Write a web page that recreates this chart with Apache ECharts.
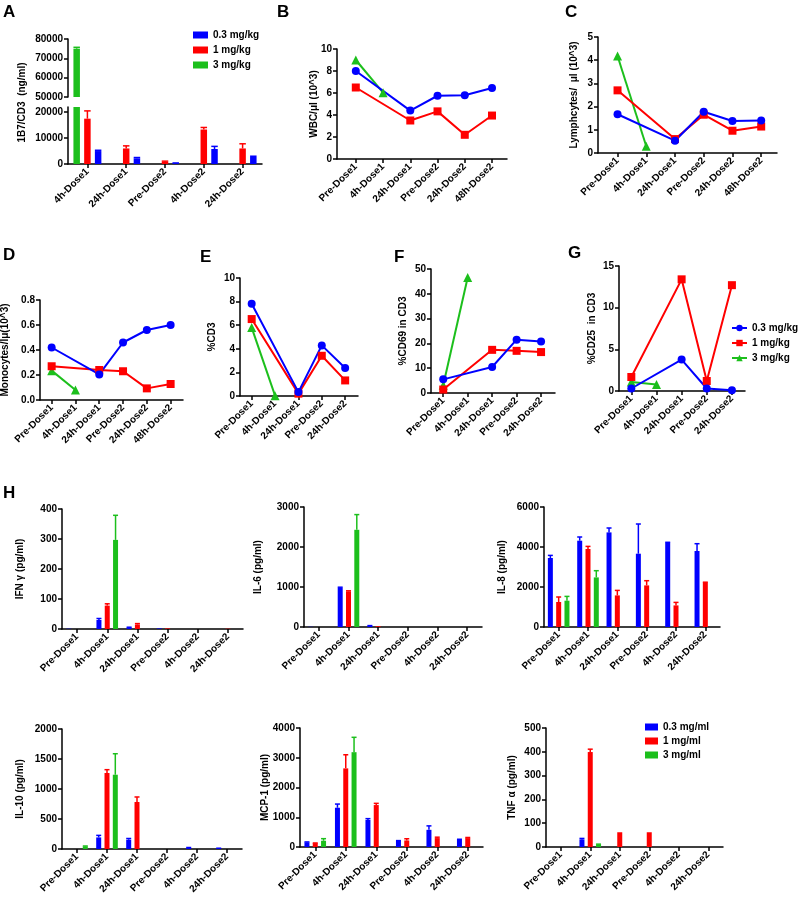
<!DOCTYPE html>
<html>
<head>
<meta charset="utf-8">
<script src="https://cdn.jsdelivr.net/npm/echarts@6.0.0/dist/echarts.min.js"></script>
<style>
  html, body { margin: 0; background: #fff; }
  #main { width: 800px; height: 914px; }
</style>
</head>
<body>
<div id="main"></div>
<script>
// ---- categories ----
var catsA = ['4h-Dose1', '24h-Dose1', 'Pre-Dose2', '4h-Dose2', '24h-Dose2'];
var catsBD = ['Pre-Dose1', '4h-Dose1', '24h-Dose1', 'Pre-Dose2', '24h-Dose2', '48h-Dose2'];
var catsEG = ['Pre-Dose1', '4h-Dose1', '24h-Dose1', 'Pre-Dose2', '24h-Dose2'];
var catsH = ['Pre-Dose1', '4h-Dose1', '24h-Dose1', 'Pre-Dose2', '4h-Dose2', '24h-Dose2'];
var kgNames = ['0.3 mg/kg', '1 mg/kg', '3 mg/kg'];
var mlNames = ['0.3 mg/ml', '1 mg/ml', '3 mg/ml'];

// ---- A: 1B7/CD3 (mean, sd) ----
var aLow = [5000, 2200, 300, 5800, 2700];
var aLowSd = [300, 300, 100, 1000, 300];
var aMid = [17500, 6000, 800, 13300, 6000];
var aMidSd = [3000, 1000, 300, 800, 1800];
var aHigh = [75000, null, null, null, null];
var aHighSd = [700, null, null, null, null];

// ---- B: WBC ----
var bLow = [8.0, null, 4.4, 5.75, 5.8, 6.45];
var bMid = [6.5, null, 3.5, 4.33, 2.2, 3.95];
var bHigh = [9.0, 6.03, null, null, null, null];
// ---- C: Lymphocytes ----
var cLow = [1.67, null, 0.53, 1.78, 1.38, 1.4];
var cMid = [2.7, null, 0.6, 1.65, 0.96, 1.14];
var cHigh = [4.18, 0.29, null, null, null, null];
// ---- D: Monocytes ----
var dLow = [0.42, null, 0.205, 0.46, 0.56, 0.6];
var dMid = [0.27, null, 0.24, 0.23, 0.093, 0.128];
var dHigh = [0.235, 0.08, null, null, null, null];
// ---- E: %CD3 ----
var eLow = [7.82, null, 0.33, 4.29, 2.37];
var eMid = [6.52, null, 0.2, 3.41, 1.32];
var eHigh = [5.8, 0.03, null, null, null];
// ---- F: %CD69 in CD3 ----
var fLow = [5.5, null, 10.5, 21.5, 20.8];
var fMid = [1.4, null, 17.4, 17.0, 16.5];
var fHigh = [3.1, 46.6, null, null, null];
// ---- G: %CD25 in CD3 ----
var gLow = [0.3, null, 3.77, 0.3, 0.1];
var gMid = [1.68, null, 13.4, 1.2, 12.7];
var gHigh = [1.08, 0.77, null, null, null];

// ---- H: cytokines (mean, sd) ----
var ifnLow = [1, 30, 5, 2, 0, 0],         ifnLowSd = [0, 5, 1, 0, 0, 0];
var ifnMid = [0, 78, 15, 2, 0, 1],        ifnMidSd = [0, 6, 3, 0, 0, 0];
var ifnHigh = [0, 297, null, null, null, null], ifnHighSd = [0, 82, null, null, null, null];

var il6Low = [5, 980, 30, 0, 0, 0],       il6LowSd = [0, 15, 5, 0, 0, 0];
var il6Mid = [0, 890, 20, 0, 0, 0],       il6MidSd = [0, 15, 0, 0, 0, 0];
var il6High = [0, 2430, null, null, null, null], il6HighSd = [0, 380, null, null, null, null];

var il8Low = [3450, 4315, 4730, 3665, 4215, 3800], il8LowSd = [130, 185, 220, 1485, 20, 365];
var il8Mid = [1250, 3900, 1580, 2080, 1080, 2230], il8MidSd = [250, 130, 250, 235, 150, 10];
var il8High = [1315, 2480, null, null, null, null], il8HighSd = [215, 335, null, null, null, null];

var il10Low = [0, 193, 155, 0, 20, 10],   il10LowSd = [0, 34, 20, 0, 5, 3];
var il10Mid = [0, 1267, 783, 0, 0, 0],    il10MidSd = [0, 55, 84, 0, 0, 0];
var il10High = [43, 1238, null, null, null, null], il10HighSd = [7, 350, null, null, null, null];

var mcpLow = [155, 1320, 910, 210, 577, 243], mcpLowSd = [15, 123, 43, 5, 133, 17];
var mcpMid = [130, 2643, 1410, 220, 300, 300], mcpMidSd = [5, 457, 57, 57, 30, 20];
var mcpHigh = [210, 3187, null, null, null, null], mcpHighSd = [70, 500, null, null, null, null];

var tnfLow = [0, 32, 0, 0, 0, 0],         tnfLowSd = [0, 4, 0, 0, 0, 0];
var tnfMid = [0, 399, 62, 62, 0, 0],      tnfMidSd = [0, 12, 0, 0, 0, 0];
var tnfHigh = [0, 11, null, null, null, null], tnfHighSd = [0, 1, null, null, null, null];

var BLUE = '#0000ff', RED = '#ff0000', GREEN = '#1cbf1c';
var FONT = '"Liberation Sans", Arial, sans-serif';

function lbl(o) {
    return Object.assign({ color: '#000', fontSize: 10, fontWeight: 'bold', fontFamily: FONT }, o || {});
}
function gridBox(l, t, r, b) {
    return { left: l, top: t, width: r - l, height: b - t, outerBoundsMode: 'none', containLabel: false };
}
var lineS = { show: true, onZero: false, lineStyle: { color: '#000', width: 1.5 } };
var tickS = { show: true, length: 4, lineStyle: { color: '#000', width: 1.5 } };
function plain(v) { return String(v); }

function yAx(gi, min, max, interval, name, gap, fmt, extra) {
    return Object.assign({
        type: 'value', gridIndex: gi, min: min, max: max, interval: interval,
        name: name, nameLocation: 'middle', nameGap: gap, nameMoveOverlap: false, nameTextStyle: lbl(),
        axisLine: lineS, axisTick: tickS,
        axisLabel: lbl({ margin: 5, formatter: fmt || plain }),
        splitLine: { show: false }
    }, extra || {});
}
function xCat(gi, cats, show) {
    return {
        type: 'category', gridIndex: gi, data: cats, show: show !== false,
        boundaryGap: true,
        axisLine: lineS, axisTick: Object.assign({ alignWithLabel: true }, tickS),
        axisLabel: lbl({ rotate: 45, interval: 0, margin: 6 }),
        splitLine: { show: false }
    };
}
function xVal(gi, cats, min, max) {
    var idx = cats.map(function (c, i) { return i; });
    return {
        type: 'value', gridIndex: gi, min: min, max: max,
        axisLine: lineS, axisTick: Object.assign({ customValues: idx }, tickS),
        axisLabel: lbl({ rotate: 45, margin: 6, customValues: idx, formatter: function (v) { return cats[v]; } }),
        splitLine: { show: false }
    };
}

// grids: 0 A-up, 1 A-low, 2 B, 3 C, 4 D, 5 E, 6 F, 7 G, 8 IFN, 9 IL6, 10 IL8, 11 IL10, 12 MCP1, 13 TNF
var grids = [
    gridBox(68, 39, 262, 97), gridBox(68, 107, 262, 164),
    gridBox(337, 49, 507, 159), gridBox(598, 37, 777, 153),
    gridBox(40, 300, 183, 400), gridBox(240, 278, 358, 396),
    gridBox(431, 269, 555, 393), gridBox(619, 266, 745, 391),
    gridBox(62, 509, 243, 629), gridBox(304, 507, 482, 627), gridBox(544, 507, 720, 627),
    gridBox(62, 729, 242, 849), gridBox(300, 728, 483, 847), gridBox(546, 728, 723, 847)
];

var xAxes = [
    xCat(0, catsA, false), xCat(1, catsA),
    xVal(2, catsBD, -0.69, 5.55), xVal(3, catsBD, -0.68, 5.55), xVal(4, catsBD, -0.49, 5.52),
    xVal(5, catsEG, -0.5, 4.55), xVal(6, catsEG, -0.5, 4.57), xVal(7, catsEG, -0.49, 4.52),
    xCat(8, catsH), xCat(9, catsH), xCat(10, catsH), xCat(11, catsH), xCat(12, catsH), xCat(13, catsH)
];

var yAxes = [
    yAx(0, 50000, 80000, 10000, '', 0),
    yAx(1, 0, 22000, 10000, '', 0, null, { axisLabel: lbl({ margin: 5, showMaxLabel: false, formatter: plain }) }),
    yAx(2, 0, 10, 2, 'WBC/μl (10^3)', 18),
    yAx(3, 0, 5, 1, 'Lymphcytes/  μl (10^3)', 19),
    yAx(4, 0, 0.8, 0.2, 'Monocytes/lμ(10^3)', 30, function (v) { return v.toFixed(1); }),
    yAx(5, 0, 10, 2, '%CD3', 23),
    yAx(6, 0, 50, 10, '%CD69 in CD3', 23),
    yAx(7, 0, 15, 5, '%CD25  in CD3', 22),
    yAx(8, 0, 400, 100, 'IFN γ (pg/ml)', 37),
    yAx(9, 0, 3000, 1000, 'IL-6 (pg/ml)', 41),
    yAx(10, 0, 6000, 2000, 'IL-8 (pg/ml)', 37),
    yAx(11, 0, 2000, 500, 'IL-10 (pg/ml)', 37),
    yAx(12, 0, 4000, 1000, 'MCP-1 (pg/ml)', 30),
    yAx(13, 0, 500, 100, 'TNF α (pg/ml)', 29)
];

var series = [];

// line panels first (so the G legend takes line icons)
function addLine(gi, name, vals, color, symbol) {
    series.push({
        type: 'line', name: name, xAxisIndex: gi, yAxisIndex: gi,
        data: vals.map(function (v, i) { return [i, v]; }).filter(function (p) { return p[1] != null; }),
        symbol: symbol, symbolSize: symbol === 'triangle' ? 9 : 8,
        lineStyle: { color: color, width: 2 }, itemStyle: { color: color },
        showAllSymbol: true, clip: false, z: 3
    });
}
[[2, bLow, bMid, bHigh], [3, cLow, cMid, cHigh], [4, dLow, dMid, dHigh],
 [5, eLow, eMid, eHigh], [6, fLow, fMid, fHigh], [7, gLow, gMid, gHigh]].forEach(function (p) {
    addLine(p[0], kgNames[2], p[3], GREEN, 'triangle');
    addLine(p[0], kgNames[1], p[2], RED, 'rect');
    addLine(p[0], kgNames[0], p[1], BLUE, 'circle');
});

// bars + error bars
function errRender(color, offset, cap) {
    return function (params, api) {
        var v = api.value(1), sd = api.value(2);
        if (isNaN(v) || isNaN(sd) || !sd) return;
        var cs = params.coordSys;
        var p0 = api.coord([api.value(0), v]);
        var p1 = api.coord([api.value(0), v + sd]);
        var x = p0[0] + offset;
        var y0 = Math.min(p0[1], cs.y + cs.height);
        var y1 = Math.max(p1[1], cs.y);
        if (y0 <= cs.y || y1 >= y0) return;
        var kids = [{ type: 'line', shape: { x1: x, y1: y0, x2: x, y2: y1 }, style: { stroke: color, lineWidth: 1.5 } }];
        if (p1[1] >= cs.y) {
            kids.push({ type: 'line', shape: { x1: x - cap / 2, y1: y1, x2: x + cap / 2, y2: y1 }, style: { stroke: color, lineWidth: 1.5 } });
        }
        return { type: 'group', children: kids };
    };
}
function addBars(gi, name, vals, sds, color, k, bw, gap) {
    series.push({
        type: 'bar', name: name, xAxisIndex: gi, yAxisIndex: gi, data: vals,
        barWidth: bw, barGap: gap + '%', itemStyle: { color: color }, clip: true
    });
    var step = bw * (1 + gap / 100);
    series.push({
        type: 'custom', xAxisIndex: gi, yAxisIndex: gi, silent: true, z: 3,
        data: vals.map(function (v, i) { return [i, v == null ? NaN : v, sds[i] == null ? NaN : sds[i]]; }),
        renderItem: errRender(color, (k - 1) * step, bw)
    });
}

// A: green, red, blue order in both halves of the broken axis
[0, 1].forEach(function (gi) {
    addBars(gi, kgNames[2], aHigh, aHighSd, GREEN, 0, 6.5, 65);
    addBars(gi, kgNames[1], aMid, aMidSd, RED, 1, 6.5, 65);
    addBars(gi, kgNames[0], aLow, aLowSd, BLUE, 2, 6.5, 65);
});

// H: blue, red, green order
[[8, ifnLow, ifnLowSd, ifnMid, ifnMidSd, ifnHigh, ifnHighSd],
 [9, il6Low, il6LowSd, il6Mid, il6MidSd, il6High, il6HighSd],
 [10, il8Low, il8LowSd, il8Mid, il8MidSd, il8High, il8HighSd],
 [11, il10Low, il10LowSd, il10Mid, il10MidSd, il10High, il10HighSd],
 [12, mcpLow, mcpLowSd, mcpMid, mcpMidSd, mcpHigh, mcpHighSd],
 [13, tnfLow, tnfLowSd, tnfMid, tnfMidSd, tnfHigh, tnfHighSd]].forEach(function (p) {
    addBars(p[0], mlNames[0], p[1], p[2], BLUE, 0, 5, 66);
    addBars(p[0], mlNames[1], p[3], p[4], RED, 1, 5, 66);
    addBars(p[0], mlNames[2], p[5], p[6], GREEN, 2, 5, 66);
});

function letter(t, x, y) {
    return { type: 'text', x: x, y: y, style: { text: t, fill: '#000', font: 'bold 17px ' + FONT, textVerticalAlign: 'top' } };
}

var option = {
    animation: false,
    backgroundColor: '#fff',
    grid: grids,
    xAxis: xAxes,
    yAxis: yAxes,
    legend: [
        { data: kgNames, left: 193, top: 30, padding: 0, orient: 'vertical', icon: 'rect', itemWidth: 15, itemHeight: 7,
          itemGap: 5, selectedMode: false, textStyle: lbl() },
        { data: kgNames, left: 731, top: 323, padding: 0, orient: 'vertical', itemWidth: 15, itemHeight: 8,
          itemGap: 5, selectedMode: false, textStyle: lbl() },
        { data: mlNames, left: 645, top: 722, padding: 0, orient: 'vertical', icon: 'rect', itemWidth: 13, itemHeight: 7,
          itemGap: 4, selectedMode: false, textStyle: lbl() }
    ],
    graphic: [
        letter('A', 3, 4), letter('B', 277, 4), letter('C', 565, 4),
        letter('D', 3, 247), letter('E', 200, 249), letter('F', 394, 249), letter('G', 568, 245),
        letter('H', 3, 485),
        { type: 'text', x: 22.7, y: 102.5, rotation: Math.PI / 2,
          style: { text: '1B7/CD3  (ng/ml)', fill: '#000', font: 'bold 10px ' + FONT, textAlign: 'center', textVerticalAlign: 'middle' } }
    ],
    series: series
};

var chart = echarts.init(document.getElementById('main'), null, { renderer: 'canvas' });
chart.setOption(option);
</script>
</body>
</html>
